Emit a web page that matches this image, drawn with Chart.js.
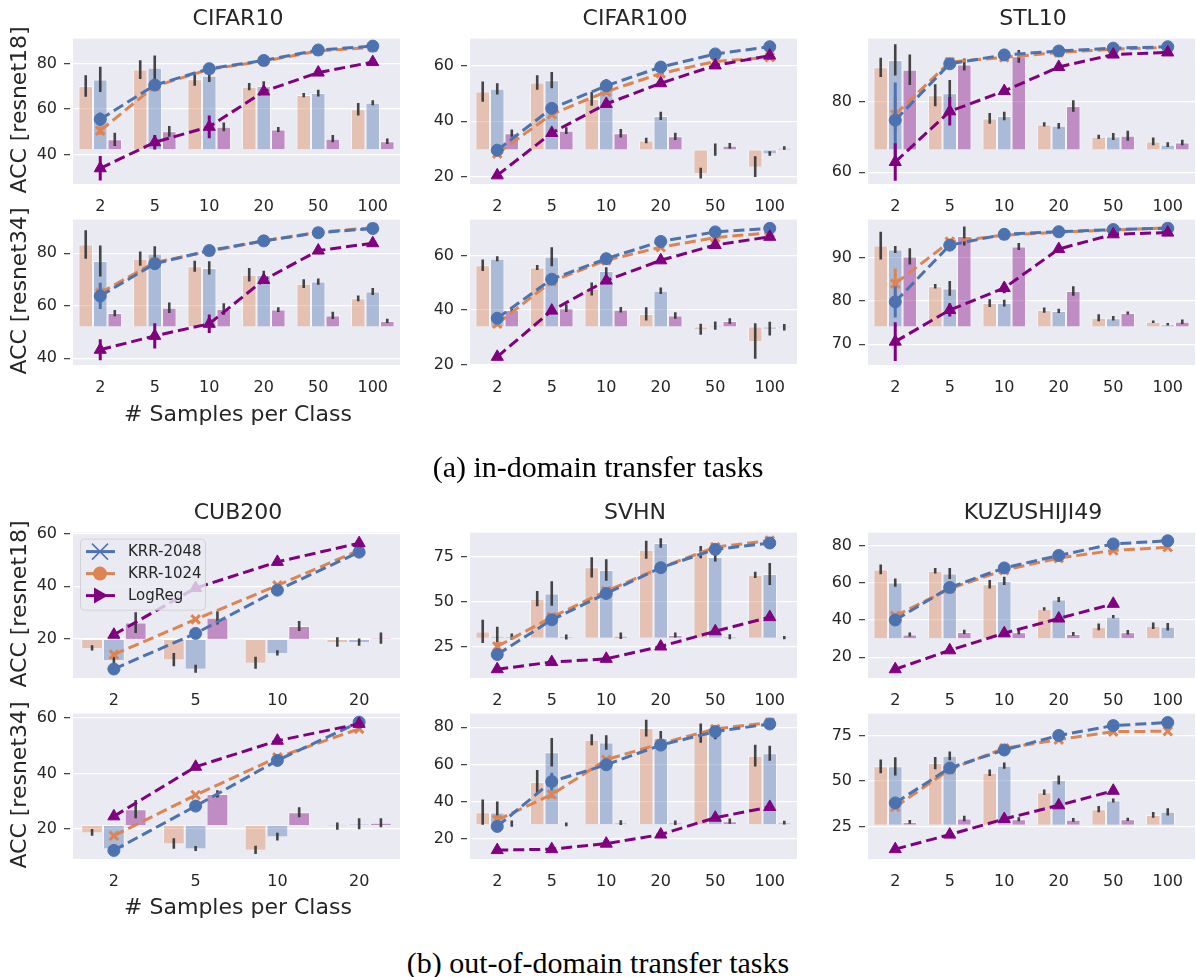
<!DOCTYPE html>
<html>
<head>
<meta charset="utf-8">
<script src="https://cdn.jsdelivr.net/npm/chart.js@4.4.0/dist/chart.umd.min.js"></script>
<style>
  body { margin:0; background:#fff; overflow:hidden; width:1196px; height:977px; position:relative; font-family:'DejaVu Sans', sans-serif; color:#262626; }
  canvas { position:absolute; }
  .title { position:absolute; text-align:center; font-size:22px; height:26px; line-height:26px; }
  .ylab { position:absolute; width:240px; height:26px; line-height:26px; text-align:center; font-size:22px; transform:rotate(-90deg); }
  .xlab { position:absolute; text-align:center; font-size:22px; height:26px; line-height:26px; }
  .cap { position:absolute; left:0; width:1196px; text-align:center; font-family:'Liberation Serif', serif; font-size:30px; height:36px; line-height:36px; color:#000; }
</style>
</head>
<body>
<script>
// x categories
const xs6 = ['2', '5', '10', '20', '50', '100'];
const xs4 = ['2', '5', '10', '20'];

// line series order: KRR-2048, KRR-1024, LogReg
// bar series order: KRR-1024 (orange), KRR-2048 (blue), LogReg (purple)

// CIFAR10 / resnet18
const cifar10R18Lines = [[55.5, 70.5, 77.7, 81.3, 85.9, 87.6], [50.5, 70.0, 77.4, 81.0, 85.5, 87.1], [34.0, 45.4, 52.2, 67.7, 76.0, 80.6]];
const cifar10R18LineErr = [[3.0, 1.5, 1.0, 0.5, 0.5, 0.4], [1.8, 1.0, 0.8, 0.5, 0.4, 0.4], [5.4, 3.2, 5.0, 1.0, 1.0, 0.8]];
const cifar10R18Bars = [[70.1, 77.3, 73.1, 69.8, 66.1, 59.9], [73.0, 78.1, 74.6, 70.1, 67.0, 62.7], [46.7, 50.2, 52.2, 51.0, 47.0, 45.9]];
const cifar10R18BarErr = [[4.7, 4.1, 2.9, 1.6, 0.9, 2.7], [5.5, 5.4, 2.7, 2.1, 1.5, 1.1], [2.9, 2.4, 1.9, 1.1, 1.6, 1.2]];
const cifar10R18Base = 42.3;
const cifar10R18Ticks = [40, 60, 80];
const cifar10R18Range = [27.1, 90.9];

// CIFAR10 / resnet34
const cifar10R34Lines = [[63.7, 76.0, 81.0, 84.7, 87.8, 89.4], [64.9, 76.5, 80.7, 84.7, 88.0, 89.7], [43.2, 48.5, 53.1, 69.8, 81.0, 83.8]];
const cifar10R34LineErr = [[5.0, 1.5, 0.8, 0.5, 0.4, 0.3], [3.0, 1.2, 0.8, 0.5, 0.4, 0.3], [4.0, 4.8, 3.5, 1.0, 0.8, 0.6]];
const cifar10R34Bars = [[83.3, 77.9, 75.0, 71.8, 68.4, 62.8], [77.0, 79.8, 74.4, 71.7, 69.2, 65.4], [57.2, 59.2, 58.7, 58.5, 56.3, 54.2]];
const cifar10R34BarErr = [[5.4, 2.7, 2.1, 2.6, 1.7, 1.1], [5.9, 2.8, 2.5, 1.6, 1.2, 1.3], [1.2, 2.0, 2.2, 0.9, 1.4, 0.8]];
const cifar10R34Base = 52.1;
const cifar10R34Ticks = [40, 60, 80];
const cifar10R34Range = [37.4, 92.8];

// CIFAR100 / resnet18
const cifar100R18Lines = [[29.6, 44.6, 52.7, 59.4, 64.1, 66.7], [28.4, 42.5, 50.6, 57.1, 61.4, 62.9], [20.6, 35.8, 46.2, 53.6, 60.0, 63.5]];
const cifar100R18LineErr = [[1.0, 1.0, 0.8, 0.6, 0.5, 0.4], [1.0, 1.0, 1.0, 0.6, 0.5, 0.5], [0.8, 0.8, 0.8, 0.6, 0.6, 0.5]];
const cifar100R18Bars = [[50.6, 53.9, 48.0, 33.1, 21.4, 23.7], [51.6, 54.7, 53.0, 41.9, 29.8, 28.4], [35.7, 36.6, 35.7, 34.6, 31.2, 30.4]];
const cifar100R18BarErr = [[3.6, 2.6, 2.5, 1.0, 1.9, 3.7], [2.0, 2.9, 2.0, 1.5, 2.2, 0.8], [1.3, 1.2, 1.5, 1.3, 1.0, 0.6]];
const cifar100R18Base = 29.9;
const cifar100R18Ticks = [20, 40, 60];
const cifar100R18Range = [17.5, 69.6];

// CIFAR100 / resnet34
const cifar100R34Lines = [[37.0, 51.3, 58.8, 65.1, 68.6, 69.9], [35.0, 50.5, 58.2, 63.0, 66.5, 68.3], [22.9, 39.8, 50.8, 58.2, 63.8, 66.8]];
const cifar100R34LineErr = [[1.2, 1.0, 0.6, 0.5, 0.4, 0.3], [1.0, 1.0, 0.6, 0.5, 0.4, 0.3], [0.8, 0.8, 0.8, 0.6, 0.5, 0.4]];
const cifar100R34Bars = [[56.4, 55.6, 47.7, 38.6, 33.0, 28.7], [58.8, 59.5, 54.3, 47.1, 34.3, 33.2], [40.0, 40.7, 40.1, 38.0, 36.0, 33.7]];
const cifar100R34BarErr = [[2.1, 0.9, 2.4, 2.4, 2.0, 6.5], [0.9, 3.5, 1.4, 1.2, 1.5, 2.5], [1.0, 1.4, 1.0, 1.2, 1.0, 1.2]];
const cifar100R34Base = 34.0;
const cifar100R34Ticks = [20, 40, 60];
const cifar100R34Range = [19.9, 73.1];

// STL10 / resnet18
const stl10R18Lines = [[74.7, 90.6, 93.1, 94.2, 95.0, 95.4], [76.3, 91.1, 92.4, 93.8, 94.7, 95.2], [62.9, 77.2, 82.9, 89.7, 93.2, 93.8]];
const stl10R18LineErr = [[10.6, 1.2, 0.5, 0.4, 0.3, 0.3], [5.0, 1.0, 0.5, 0.4, 0.3, 0.3], [5.3, 4.0, 0.8, 0.6, 0.5, 0.5]];
const stl10R18Bars = [[89.6, 81.7, 75.2, 73.5, 70.0, 68.7], [91.7, 82.3, 75.9, 73.1, 70.1, 67.8], [88.9, 90.4, 92.7, 78.7, 70.3, 68.4]];
const stl10R18BarErr = [[2.7, 3.1, 1.5, 0.6, 0.6, 1.1], [4.4, 3.7, 1.2, 0.8, 1.0, 0.7], [4.3, 1.7, 1.8, 1.6, 1.4, 0.8]];
const stl10R18Base = 66.45;
const stl10R18Ticks = [60, 80];
const stl10R18Range = [56.7, 97.7];

// STL10 / resnet34
const stl10R34Lines = [[79.8, 92.9, 95.4, 96.0, 96.5, 96.8], [84.0, 93.7, 95.2, 95.9, 96.4, 96.9], [70.6, 77.9, 83.0, 92.0, 95.4, 95.8]];
const stl10R34LineErr = [[3.6, 0.5, 0.3, 0.2, 0.2, 0.2], [3.5, 0.5, 0.3, 0.2, 0.2, 0.2], [4.5, 1.5, 1.2, 0.5, 0.3, 0.3]];
const stl10R34Bars = [[92.8, 83.4, 79.5, 77.9, 76.1, 75.2], [91.9, 82.9, 79.5, 77.7, 76.0, 74.6], [90.3, 95.0, 92.6, 82.3, 77.2, 75.2]];
const stl10R34BarErr = [[3.2, 0.5, 0.9, 0.6, 0.8, 0.3], [0.8, 1.7, 0.8, 0.5, 0.5, 0.3], [1.9, 2.2, 0.8, 1.1, 0.35, 0.5]];
const stl10R34Base = 74.1;
const stl10R34Ticks = [70, 80, 90];
const stl10R34Range = [65.2, 98.8];

// CUB200 / resnet18
const cub200R18Lines = [[8.6, 22.1, 38.5, 52.9], [14.1, 27.4, 40.3, 53.6], [21.6, 39.3, 49.2, 56.3]];
const cub200R18LineErr = [[0.6, 0.5, 0.5, 0.5], [0.6, 0.5, 0.5, 0.5], [0.5, 0.5, 0.5, 0.5]];
const cub200R18Bars = [[16.6, 12.2, 11.0, 18.8], [12.0, 8.7, 14.7, 18.8], [26.2, 28.0, 24.9, 20.3]];
const cub200R18BarErr = [[1.0, 2.5, 2.3, 1.8], [2.5, 1.5, 1.0, 1.4], [3.9, 2.5, 1.9, 2.1]];
const cub200R18Base = 20.0;
const cub200R18Ticks = [20, 40, 60];
const cub200R18Range = [5.2, 60.3];

// CUB200 / resnet34
const cub200R34Lines = [[12.2, 28.2, 44.7, 58.5], [17.5, 32.2, 45.8, 56.1], [24.5, 42.4, 51.8, 57.9]];
const cub200R34LineErr = [[0.6, 0.5, 0.5, 0.5], [0.6, 0.5, 0.5, 0.5], [0.5, 0.5, 0.5, 0.5]];
const cub200R34Bars = [[18.7, 14.7, 12.4, 21.0], [12.9, 12.9, 17.2, 21.8], [27.1, 32.6, 26.0, 22.2]];
const cub200R34BarErr = [[1.2, 1.9, 1.5, 1.3], [1.5, 0.9, 1.4, 2.0], [3.3, 1.3, 1.8, 1.6]];
const cub200R34Base = 21.4;
const cub200R34Ticks = [20, 40, 60];
const cub200R34Range = [9.1, 61.6];

// SVHN / resnet18
const svhnR18Lines = [[20.5, 39.9, 54.6, 69.0, 79.2, 82.8], [25.0, 41.4, 55.9, 69.0, 80.5, 84.1], [12.3, 16.3, 18.1, 25.0, 33.5, 41.4]];
const svhnR18LineErr = [[1.5, 1.5, 1.5, 1.0, 0.8, 0.6], [2.5, 1.5, 1.5, 1.0, 0.8, 0.6], [0.8, 1.0, 1.0, 0.8, 0.8, 0.8]];
const svhnR18Bars = [[33.4, 51.7, 69.2, 79.0, 77.7, 65.0], [31.0, 54.6, 67.7, 82.8, 75.0, 65.5], [30.5, 30.3, 31.0, 31.4, 30.5, 30.0]];
const svhnR18BarErr = [[6.5, 4.3, 5.7, 5.0, 3.4, 1.8], [5.0, 6.8, 6.0, 2.7, 2.5, 6.1], [1.8, 1.4, 1.8, 1.4, 1.4, 0.9]];
const svhnR18Base = 29.9;
const svhnR18Ticks = [25, 50, 75];
const svhnR18Range = [7.4, 88.6];

// SVHN / resnet34
const svhnR34Lines = [[26.5, 50.7, 59.8, 70.4, 77.7, 81.8], [30.0, 43.7, 62.5, 71.2, 79.1, 82.6], [13.7, 14.2, 17.2, 22.1, 31.2, 37.0]];
const svhnR34LineErr = [[2.0, 4.8, 2.0, 1.5, 1.0, 0.6], [2.5, 2.0, 1.5, 1.0, 0.8, 0.6], [0.8, 0.8, 1.0, 1.0, 0.8, 0.8]];
const svhnR34Bars = [[34.2, 50.5, 73.3, 79.6, 76.8, 64.7], [34.0, 66.5, 71.8, 74.2, 76.8, 66.0], [28.0, 27.6, 28.5, 28.5, 29.3, 28.5]];
const svhnR34BarErr = [[6.8, 6.5, 3.0, 4.5, 5.2, 5.9], [6.0, 7.7, 3.9, 3.8, 3.3, 4.0], [1.7, 1.0, 1.3, 1.2, 1.4, 1.0]];
const svhnR34Base = 27.7;
const svhnR34Ticks = [20, 40, 60, 80];
const svhnR34Range = [8.9, 87.4];

// KUZUSHIJI49 / resnet18
const kuzR18Lines = [[40.0, 57.5, 68.0, 74.7, 80.9, 82.6], [42.2, 56.8, 66.8, 73.3, 77.4, 79.1], [13.5, 23.7, 32.9, 40.8, 48.7, null]];
const kuzR18LineErr = [[1.0, 0.8, 0.6, 0.5, 0.4, 0.3], [1.0, 0.8, 0.6, 0.5, 0.4, 0.3], [1.0, 1.0, 1.5, 1.5, 1.0, null]];
const kuzR18Bars = [[67.2, 66.5, 59.2, 46.0, 36.3, 36.9], [60.1, 65.0, 61.0, 51.0, 41.8, 36.4], [32.2, 33.6, 33.4, 32.5, 33.4, null]];
const kuzR18BarErr = [[2.6, 1.5, 2.3, 0.9, 1.8, 1.7], [2.2, 3.0, 2.2, 1.3, 0.9, 2.0], [1.1, 1.1, 1.1, 1.0, 1.2, null]];
const kuzR18Base = 30.2;
const kuzR18Ticks = [20, 40, 60, 80];
const kuzR18Range = [8.8, 87.0];

// KUZUSHIJI49 / resnet34
const kuzR34Lines = [[37.9, 57.1, 67.0, 75.0, 80.4, 82.1], [35.7, 56.3, 67.9, 72.7, 77.1, 77.3], [12.5, 20.5, 29.1, 36.6, 44.6, null]];
const kuzR34LineErr = [[1.0, 0.8, 0.6, 0.5, 0.4, 0.3], [1.0, 0.8, 0.6, 0.5, 0.4, 0.3], [1.0, 1.0, 1.0, 1.0, 1.0, null]];
const kuzR34Bars = [[58.0, 59.8, 54.5, 43.8, 34.5, 31.3], [58.0, 63.8, 58.4, 50.5, 39.3, 33.0], [27.5, 29.3, 28.9, 28.6, 28.9, null]];
const kuzR34BarErr = [[3.8, 3.4, 1.8, 1.5, 1.7, 1.6], [5.0, 2.4, 1.7, 2.5, 1.1, 2.0], [1.0, 1.5, 1.1, 1.0, 0.9, null]];
const kuzR34Base = 25.9;
const kuzR34Ticks = [25, 50, 75];
const kuzR34Range = [7.1, 87.0];

const legendLabels = ['KRR-2048', 'KRR-1024', 'LogReg'];

// colours
const BLUE = '#4C72B0', ORANGE = '#DD8452', PURPLE = '#800080';
const barFill = ['rgba(221,132,82,0.4)', 'rgba(76,114,176,0.4)', 'rgba(128,0,128,0.4)'];
const lineCol = [BLUE, ORANGE, PURPLE];
const lineMarker = ['circle', 'crossRot', 'triangle'];

// layout of the grid of axes
const colLeft = [73, 470, 868];
const rowTop = [36, 217, 530, 711];
const plotW = 330, plotH = 148;
const padL = 65, padT = 14, padR = 6, padB = 40;
const FONT = "'DejaVu Sans', sans-serif";

const panels = [
  {title:'CIFAR10', col:0, row:0, cats:xs6, lines:cifar10R18Lines, lineErr:cifar10R18LineErr, bars:cifar10R18Bars, barErr:cifar10R18BarErr, base:cifar10R18Base, ticks:cifar10R18Ticks, range:cifar10R18Range},
  {title:null, col:0, row:1, cats:xs6, lines:cifar10R34Lines, lineErr:cifar10R34LineErr, bars:cifar10R34Bars, barErr:cifar10R34BarErr, base:cifar10R34Base, ticks:cifar10R34Ticks, range:cifar10R34Range},
  {title:'CIFAR100', col:1, row:0, cats:xs6, lines:cifar100R18Lines, lineErr:cifar100R18LineErr, bars:cifar100R18Bars, barErr:cifar100R18BarErr, base:cifar100R18Base, ticks:cifar100R18Ticks, range:cifar100R18Range},
  {title:null, col:1, row:1, cats:xs6, lines:cifar100R34Lines, lineErr:cifar100R34LineErr, bars:cifar100R34Bars, barErr:cifar100R34BarErr, base:cifar100R34Base, ticks:cifar100R34Ticks, range:cifar100R34Range},
  {title:'STL10', col:2, row:0, cats:xs6, lines:stl10R18Lines, lineErr:stl10R18LineErr, bars:stl10R18Bars, barErr:stl10R18BarErr, base:stl10R18Base, ticks:stl10R18Ticks, range:stl10R18Range},
  {title:null, col:2, row:1, cats:xs6, lines:stl10R34Lines, lineErr:stl10R34LineErr, bars:stl10R34Bars, barErr:stl10R34BarErr, base:stl10R34Base, ticks:stl10R34Ticks, range:stl10R34Range},
  {title:'CUB200', col:0, row:2, cats:xs4, lines:cub200R18Lines, lineErr:cub200R18LineErr, bars:cub200R18Bars, barErr:cub200R18BarErr, base:cub200R18Base, ticks:cub200R18Ticks, range:cub200R18Range, legend:true},
  {title:null, col:0, row:3, cats:xs4, lines:cub200R34Lines, lineErr:cub200R34LineErr, bars:cub200R34Bars, barErr:cub200R34BarErr, base:cub200R34Base, ticks:cub200R34Ticks, range:cub200R34Range},
  {title:'SVHN', col:1, row:2, cats:xs6, lines:svhnR18Lines, lineErr:svhnR18LineErr, bars:svhnR18Bars, barErr:svhnR18BarErr, base:svhnR18Base, ticks:svhnR18Ticks, range:svhnR18Range},
  {title:null, col:1, row:3, cats:xs6, lines:svhnR34Lines, lineErr:svhnR34LineErr, bars:svhnR34Bars, barErr:svhnR34BarErr, base:svhnR34Base, ticks:svhnR34Ticks, range:svhnR34Range},
  {title:'KUZUSHIJI49', col:2, row:2, cats:xs6, lines:kuzR18Lines, lineErr:kuzR18LineErr, bars:kuzR18Bars, barErr:kuzR18BarErr, base:kuzR18Base, ticks:kuzR18Ticks, range:kuzR18Range},
  {title:null, col:2, row:3, cats:xs6, lines:kuzR34Lines, lineErr:kuzR34LineErr, bars:kuzR34Bars, barErr:kuzR34BarErr, base:kuzR34Base, ticks:kuzR34Ticks, range:kuzR34Range}
];

// grey axes background
const bgPlugin = {
  id: 'axesBg',
  beforeDraw(chart) {
    const a = chart.chartArea, ctx = chart.ctx;
    ctx.save();
    ctx.fillStyle = '#EAEAF2';
    ctx.fillRect(a.left, a.top, a.right - a.left, a.bottom - a.top);
    ctx.restore();
  }
};

// error bars, drawn right after their own dataset
const errPlugin = {
  id: 'errBars',
  afterDatasetDraw(chart, args) {
    const ds = chart.data.datasets[args.index];
    if (!ds.errors) return;
    const ctx = chart.ctx, y = chart.scales.y, a = chart.chartArea;
    ctx.save();
    ctx.beginPath();
    ctx.rect(a.left, a.top, a.right - a.left, a.bottom - a.top);
    ctx.clip();
    ctx.strokeStyle = ds.errColor;
    ctx.lineWidth = ds.errWidth;
    args.meta.data.forEach(function(el, i) {
      const v = ds.vals[i], e = ds.errors[i];
      if (v == null || !e) return;
      ctx.beginPath();
      ctx.moveTo(el.x, y.getPixelForValue(v - e));
      ctx.lineTo(el.x, y.getPixelForValue(v + e));
      ctx.stroke();
    });
    ctx.restore();
  }
};

// legend inside the CUB200 / resnet18 axes
const legendPlugin = {
  id: 'cubLegend',
  afterDatasetsDraw(chart) {
    const ctx = chart.ctx, a = chart.chartArea;
    const x = a.left + 7, y = a.top + 6, w = 125, h = 71;
    ctx.save();
    ctx.fillStyle = 'rgba(234,234,242,0.8)';
    ctx.strokeStyle = 'rgba(204,204,204,0.8)';
    ctx.lineWidth = 1;
    ctx.beginPath();
    ctx.roundRect(x + 0.5, y + 0.5, w, h, 4);
    ctx.fill();
    ctx.stroke();
    legendLabels.forEach(function(lbl, i) {
      const ly = y + 13 + i * 22, mx = x + 20;
      ctx.strokeStyle = lineCol[i];
      ctx.fillStyle = lineCol[i];
      ctx.lineWidth = 3;
      ctx.beginPath();
      ctx.moveTo(x + 6, ly);
      ctx.lineTo(x + 35, ly);
      ctx.stroke();
      ctx.beginPath();
      if (i == 0) {
        ctx.lineWidth = 1.5;
        ctx.moveTo(mx - 8, ly - 8); ctx.lineTo(mx + 8, ly + 8);
        ctx.moveTo(mx - 8, ly + 8); ctx.lineTo(mx + 8, ly - 8);
        ctx.stroke();
      } else if (i == 1) {
        ctx.arc(mx, ly, 7, 0, Math.PI * 2);
        ctx.fill();
      } else {
        ctx.moveTo(mx + 8, ly); ctx.lineTo(mx - 6, ly - 8); ctx.lineTo(mx - 6, ly + 8);
        ctx.closePath();
        ctx.fill();
      }
      ctx.fillStyle = '#262626';
      ctx.font = '15px ' + FONT;
      ctx.textBaseline = 'middle';
      ctx.fillText(lbl, x + 48, ly + 1);
    });
    ctx.restore();
  }
};

function addText(cls, txt, left, top, width) {
  const d = document.createElement('div');
  d.className = cls;
  d.textContent = txt;
  d.style.left = left + 'px';
  d.style.top = top + 'px';
  if (width) d.style.width = width + 'px';
  document.body.appendChild(d);
}

panels.forEach(function(p) {
  const cv = document.createElement('canvas');
  const left = colLeft[p.col] - padL, top = rowTop[p.row] - padT;
  cv.width = plotW + padL + padR;
  cv.height = plotH + padT + padB;
  cv.style.left = left + 'px';
  cv.style.top = top + 'px';
  document.body.appendChild(cv);

  const datasets = [];
  p.bars.forEach(function(vals, i) {
    datasets.push({
      type: 'bar',
      data: vals.map(v => v == null ? null : [p.base, v]),
      vals: vals,
      errors: p.barErr[i],
      errColor: 'rgba(50,50,50,0.9)',
      errWidth: 2.6,
      backgroundColor: barFill[i],
      borderColor: 'rgba(255,255,255,0.6)',
      borderWidth: 1,
      categoryPercentage: 0.8,
      barPercentage: 1.0,
      order: 10
    });
  });
  const lineOrder = [2, 3, 1];
  p.lines.forEach(function(vals, i) {
    datasets.push({
      type: 'line',
      data: vals,
      vals: vals,
      errors: p.lineErr[i],
      errColor: lineCol[i],
      errWidth: 3,
      borderColor: lineCol[i],
      backgroundColor: lineCol[i],
      borderWidth: 3,
      borderDash: [11, 5],
      pointStyle: lineMarker[i],
      pointRadius: i == 2 ? 7 : 6,
      pointBorderWidth: i == 1 ? 3 : 1,
      pointBackgroundColor: lineCol[i],
      pointBorderColor: lineCol[i],
      fill: false,
      order: lineOrder[i]
    });
  });

  const plugins = [bgPlugin, errPlugin];
  if (p.legend) plugins.push(legendPlugin);

  new Chart(cv, {
    type: 'bar',
    data: { labels: p.cats, datasets: datasets },
    options: {
      responsive: false,
      animation: false,
      layout: { padding: { top: padT, right: padR, left: 0, bottom: 0 } },
      plugins: { legend: { display: false }, tooltip: { enabled: false } },
      scales: {
        x: {
          offset: true,
          grid: { display: false, drawTicks: false },
          border: { display: false },
          ticks: { font: { size: 16, family: FONT }, color: '#262626', padding: 13, maxRotation: 0, autoSkip: false },
          afterFit: function(s) { s.height = padB; }
        },
        y: {
          min: p.range[0],
          max: p.range[1],
          grid: { color: '#ffffff', lineWidth: 1.3, tickColor: '#3a3a3a', tickLength: 9, tickWidth: 1.2, tickBorderDash: [6, 3] },
          border: { display: false },
          ticks: { font: { size: 16, family: FONT }, color: '#262626', padding: 7 },
          afterBuildTicks: function(s) { s.ticks = p.ticks.map(v => ({ value: v })); },
          afterFit: function(s) { s.width = padL; }
        }
      }
    },
    plugins: plugins
  });

  if (p.title) addText('title', p.title, colLeft[p.col], rowTop[p.row] - 31, plotW);
});

// axis labels (first column only)
['ACC [resnet18]', 'ACC [resnet34]', 'ACC [resnet18]', 'ACC [resnet34]'].forEach(function(t, r) {
  addText('ylab', t, 18.5 - 120, rowTop[r] + plotH / 2 - 13);
});
addText('xlab', '# Samples per Class', colLeft[0], 401, plotW);
addText('xlab', '# Samples per Class', colLeft[0], 894, plotW);

// sub-figure captions
addText('cap', '(a) in-domain transfer tasks', 0, 449);
addText('cap', '(b) out-of-domain transfer tasks', 0, 945);
</script>
</body>
</html>
